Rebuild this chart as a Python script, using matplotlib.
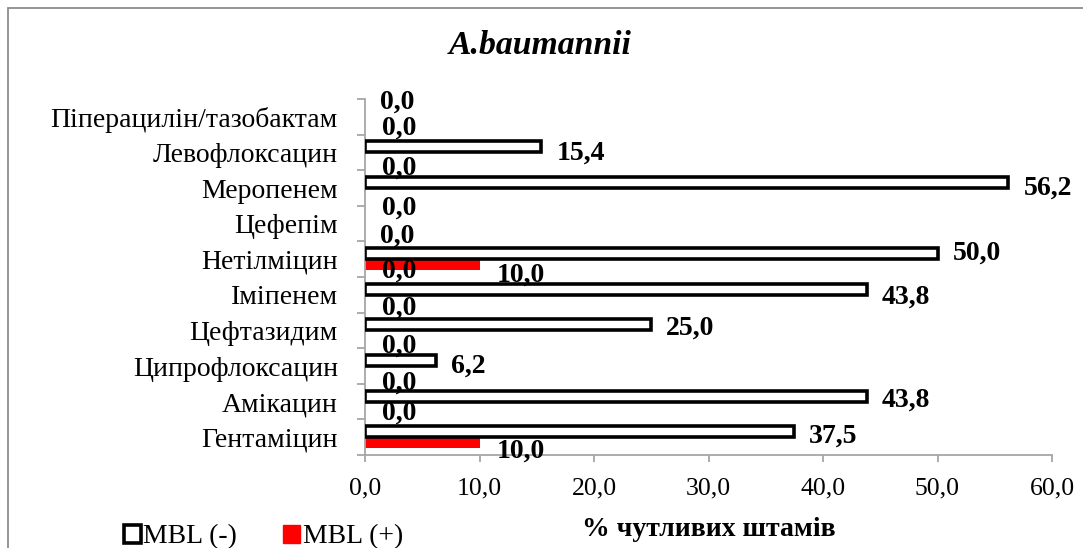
import matplotlib
matplotlib.use("Agg")
import matplotlib.pyplot as plt
from matplotlib.patches import Patch, Rectangle
from matplotlib.ticker import FuncFormatter, FixedLocator

plt.rcParams['font.family'] = ['Liberation Serif', 'DejaVu Serif']

# дані (знизу вгору, як на діаграмі)
categories = ['Гентаміцин', 'Амікацин', 'Ципрофлоксацин', 'Цефтазидим', 'Іміпенем',
              'Нетілміцин', 'Цефепім', 'Меропенем', 'Левофлоксацин', 'Піперацилін/тазобактам']
mbl_neg = [37.5, 43.8, 6.2, 25.0, 43.8, 50.0, 0.0, 56.2, 15.4, 0.0]
mbl_pos = [10.0, 0.0, 0.0, 0.0, 0.0, 10.0, 0.0, 0.0, 0.0, 0.0]
series_names = ['MBL (-)', 'MBL (+)']
x_ticks = [0, 10, 20, 30, 40, 50, 60]

# зсуви підписів (пікселі, вниз = +), як їх розставив автор
neg_label_shift = [1, 1, 2.5, 0, 5, -4, 15, 2.5, 3, -12]
pos_label_shift = [5, 3, 8.5, 7, 5, 7, 39, 11.5, 7, 3]

fig = plt.figure(figsize=(10.83, 5.48), dpi=100)
ax = fig.add_axes([365 / 1083, 93 / 548, 687 / 1083, 356 / 548])

y = list(range(len(categories)))
h = 0.31
y_neg = [v + h / 2 for v in y]
y_pos = [v - h / 2 for v in y]

# нульові смуги без контуру
neg_lw = [2.6 if v > 0 else 0 for v in mbl_neg]
ax.barh(y_pos, mbl_pos, height=h, color='#ff0000', linewidth=0, zorder=2)
ax.barh(y_neg, mbl_neg, height=h, color='white', edgecolor='black', linewidth=neg_lw, zorder=3)

fmt = lambda v: f'{v:.1f}'.replace('.', ',')
for yy, v, s in zip(y_neg, mbl_neg, neg_label_shift):
    ax.annotate(fmt(v), (v, yy), xytext=(15, -s), textcoords='offset pixels',
                ha='left', va='center_baseline', fontsize=20, fontweight='bold', zorder=5)
for yy, v, s in zip(y_pos, mbl_pos, pos_label_shift):
    ax.annotate(fmt(v), (v, yy), xytext=(17, -s), textcoords='offset pixels',
                ha='left', va='center_baseline', fontsize=20, fontweight='bold', zorder=5)

ax.set_xlim(0, 60)
ax.set_ylim(-0.5, len(categories) - 0.5)
ax.set_xticks(x_ticks)
ax.xaxis.set_major_formatter(FuncFormatter(lambda v, p: fmt(v)))
ax.set_yticks(y)
ax.set_yticklabels(categories)
ax.yaxis.set_minor_locator(FixedLocator([v - 0.5 for v in y] + [len(y) - 0.5]))

gray = '#a6a6a6'
for side in ['top', 'right']:
    ax.spines[side].set_visible(False)
for side in ['left', 'bottom']:
    ax.spines[side].set_color(gray)
    ax.spines[side].set_linewidth(1.3)

ax.tick_params(axis='y', which='major', length=0, pad=19.5, labelsize=20)
ax.tick_params(axis='y', which='minor', length=6, width=1.3, color=gray)
ax.tick_params(axis='x', which='major', length=5, width=1.3, color=gray, pad=11.5, labelsize=18.5)

ax.set_xlabel('% чутливих штамів', fontsize=20, fontweight='bold', labelpad=12)
fig.text(540 / 1083, 1 - 45 / 548, 'A.baumannii', ha='center', va='center',
         fontsize=24.3, fontweight='bold', fontstyle='italic')

handles = [Patch(facecolor='white', edgecolor='black', linewidth=2.6),
           Patch(facecolor='#ff0000', edgecolor='#ff0000')]
fig.legend(handles, series_names, loc='center left', bbox_to_anchor=(124 / 1083, 1 - 537 / 548),
           ncol=2, frameon=False, fontsize=20, handlelength=0.6, handleheight=0.6,
           handletextpad=0.1, columnspacing=1.65, borderaxespad=0, borderpad=0)

fig.patches.append(Rectangle((8 / 1083, -0.1), 1.2, 1.1 - 8 / 548, transform=fig.transFigure,
                             fill=False, edgecolor='#8c8c8c', linewidth=1.3))

fig.savefig('out.png', dpi=100)
